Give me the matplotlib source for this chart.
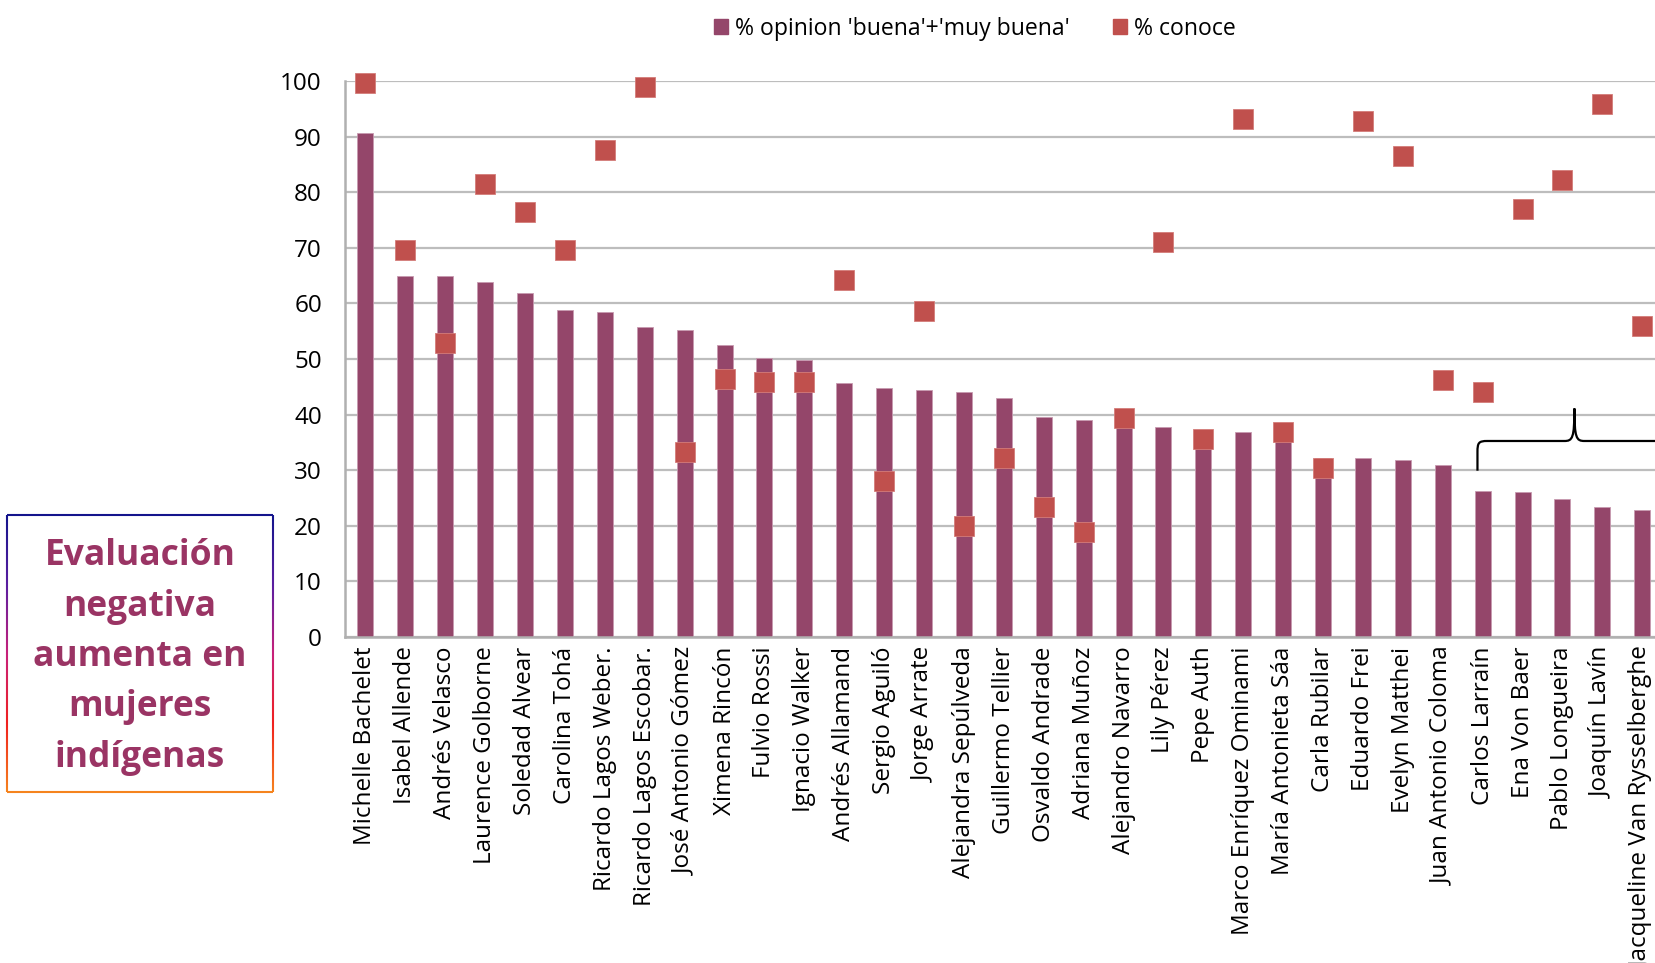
import matplotlib
matplotlib.use("Agg")
import matplotlib.pyplot as plt
import numpy as np
from matplotlib.patches import Rectangle, PathPatch
from matplotlib.path import Path
from matplotlib.collections import LineCollection
from matplotlib.colors import LinearSegmentedColormap

names = ["Michelle Bachelet", "Isabel Allende", "Andrés Velasco", "Laurence Golborne",
         "Soledad Alvear", "Carolina Tohá", "Ricardo Lagos Weber.", "Ricardo Lagos Escobar.",
         "José Antonio Gómez", "Ximena Rincón", "Fulvio Rossi", "Ignacio Walker",
         "Andrés Allamand", "Sergio Aguiló", "Jorge Arrate", "Alejandra Sepúlveda",
         "Guillermo Tellier", "Osvaldo Andrade", "Adriana Muñoz", "Alejandro Navarro",
         "Lily Pérez", "Pepe Auth", "Marco Enríquez Ominami", "María Antonieta Sáa",
         "Carla Rubilar", "Eduardo Frei", "Evelyn Matthei", "Juan Antonio Coloma",
         "Carlos Larraín", "Ena Von Baer", "Pablo Longueira", "Joaquín Lavín",
         "Jacqueline Van Rysselberghe"]

opinion = [90.7, 65.0, 65.0, 63.9, 61.9, 58.8, 58.5, 55.7,
           55.3, 52.6, 50.2, 49.9, 45.6, 44.8, 44.5, 44.0,
           42.9, 39.5, 39.0, 38.6, 37.7, 37.3, 36.8, 36.4,
           32.2, 32.1, 31.9, 30.9, 26.3, 26.1, 24.8, 23.3, 22.8]

conoce = [99.7, 69.7, 52.8, 81.5, 76.4, 69.7, 87.7, 98.9,
          33.2, 46.4, 45.8, 45.8, 64.3, 28.1, 58.7, 19.9,
          32.1, 23.3, 18.9, 39.3, 71.1, 35.6, 93.2, 36.8,
          30.4, 92.8, 86.6, 46.2, 44.0, 77.1, 82.3, 95.9, 56.0]

legend_labels = ["% opinion 'buena'+'muy buena'", "% conoce"]
yticks = [0, 10, 20, 30, 40, 50, 60, 70, 80, 90, 100]
box_text = "Evaluación\nnegativa\naumenta en\nmujeres\nindígenas"

BAR_C = "#94466A"
MARK_C = "#C0504D"
GRID_C = "#BDBDBD"
FONT = "Open Sans"

W, H = 1656, 963
fig = plt.figure(figsize=(W / 100, H / 100), dpi=100)

left_px, bottom_px, top_px = 345.5, 636.8, 81.3
spacing_px = 39.9
ax = fig.add_axes([left_px / W, 1 - bottom_px / H, 1 - left_px / W, (bottom_px - top_px) / H])
x = np.arange(len(names))
ax.bar(x, opinion, width=0.4, color=BAR_C, edgecolor="#C79AB0", linewidth=0.6, zorder=2)
ax.plot(x, conoce, linestyle="none", marker="s", markersize=14.5, color=MARK_C,
        markeredgecolor="#D47C79", markeredgewidth=0.6, zorder=3, clip_on=False)

ax.set_xlim(-0.5, -0.5 + (W - left_px) / spacing_px)
ax.set_ylim(0, 100)
ax.set_yticks(yticks)
ax.yaxis.grid(True, color=GRID_C, linewidth=1.6, zorder=0)
ax.set_axisbelow(True)
ax.set_xticks(x)
ax.set_xticklabels(names, rotation=90, fontsize=17.5, family=FONT)
for lab in ax.get_yticklabels():
    lab.set_family(FONT)
    lab.set_fontsize(17.5)
ax.tick_params(axis="both", length=0)
ax.tick_params(axis="y", pad=17)
ax.tick_params(axis="x", pad=7)
for s in ["top", "right"]:
    ax.spines[s].set_visible(False)
for s in ["left", "bottom"]:
    ax.spines[s].set_color("#B0B0B0")
    ax.spines[s].set_linewidth(1.8)

# brace over the last group
i0 = names.index("Carlos Larraín")
x0 = i0 - 0.13
xm = x0 + 2.43
x1 = 2 * xm - x0
yb, ym, yt = 29.9, 35.25, 41.1
verts = [(x0, yb), (x0, ym - 2.0),
         (x0, ym - 0.3), (x0 + 0.03, ym), (x0 + 0.25, ym),
         (xm - 0.25, ym),
         (xm - 0.05, ym), (xm, ym + 0.5), (xm, yt),
         (xm, ym + 0.5), (xm + 0.05, ym), (xm + 0.25, ym),
         (x1 - 0.25, ym),
         (x1 - 0.03, ym), (x1, ym - 0.3), (x1, ym - 2.0),
         (x1, yb)]
codes = [Path.MOVETO, Path.LINETO,
         Path.CURVE4, Path.CURVE4, Path.CURVE4,
         Path.LINETO,
         Path.CURVE4, Path.CURVE4, Path.CURVE4,
         Path.CURVE4, Path.CURVE4, Path.CURVE4,
         Path.LINETO,
         Path.CURVE4, Path.CURVE4, Path.CURVE4,
         Path.LINETO]
ax.add_patch(PathPatch(Path(verts, codes), facecolor="none", edgecolor="black",
                       linewidth=1.6, zorder=4))

# legend
h1 = Rectangle((0, 0), 1, 1, color=BAR_C)
h2 = Rectangle((0, 0), 1, 1, color=MARK_C)
fig.legend([h1, h2], legend_labels, loc="upper center", bbox_to_anchor=(975 / W, 1.0 + 4 / H),
           ncol=2, frameon=False, prop={"family": FONT, "size": 16.6},
           handlelength=0.6, handleheight=0.6, handletextpad=0.3, columnspacing=1.9)

# text box with gradient border
bx0, bx1 = 7.4 / W, 272.5 / W
by0, by1 = 1 - 792 / H, 1 - 515 / H
cmap = LinearSegmentedColormap.from_list("bord", ["#14148C", "#5A1EA0", "#C8207A", "#F0201E", "#F5841E"])
n = 200
ys = np.linspace(by1, by0, n + 1)
segs_l = [[(bx0, ys[k]), (bx0, ys[k + 1])] for k in range(n)]
segs_r = [[(bx1, ys[k]), (bx1, ys[k + 1])] for k in range(n)]
cols = [cmap(k / n) for k in range(n)]
fig.add_artist(LineCollection(segs_l, colors=cols, linewidths=1.5, transform=fig.transFigure))
fig.add_artist(LineCollection(segs_r, colors=cols, linewidths=1.5, transform=fig.transFigure))
fig.add_artist(LineCollection([[(bx0, by1), (bx1, by1)]], colors=[cmap(0.0)], linewidths=1.5,
                              transform=fig.transFigure))
fig.add_artist(LineCollection([[(bx0, by0), (bx1, by0)]], colors=[cmap(1.0)], linewidths=1.5,
                              transform=fig.transFigure))
fig.text((bx0 + bx1) / 2, 1 - 657 / H, box_text, ha="center", va="center",
         fontsize=25.5, fontweight="bold", family=FONT, color="#9A3464", linespacing=1.53)

fig.savefig("out.png", dpi=100)
